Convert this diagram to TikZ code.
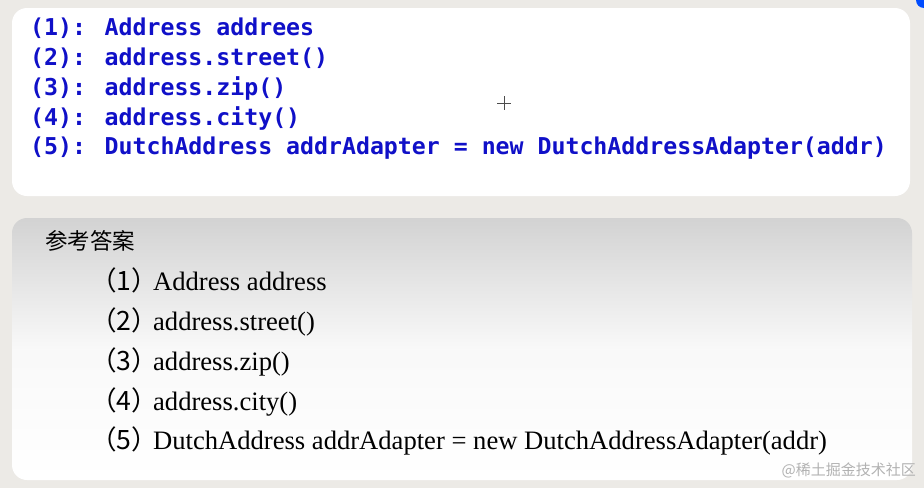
\documentclass[tikz,border=0pt]{standalone}
\usepackage{fontspec}
\setmainfont{Liberation Serif}
\newfontfamily\cjk{Noto Sans CJK SC}
\newfontfamily\codef{DejaVu Sans Mono}
\begin{document}
\begin{tikzpicture}[x=1pt,y=-1pt,
  code/.style={anchor=west,inner sep=0,text=codeblue,font=\codef\bfseries\fontsize{23.2}{23}\selectfont},
  ans/.style={anchor=west,inner sep=0,font=\fontsize{26.6}{26}\selectfont}]
\definecolor{codeblue}{RGB}{16,16,200}
\definecolor{bg}{RGB}{236,234,230}
\useasboundingbox (0,0) rectangle (924,488);
\fill[bg] (0,0) rectangle (924,488);
\fill[blue!70!cyan] (924,0) circle (8);
\fill[white,rounded corners=15] (12,8) rectangle (910,196);
\shade[rounded corners=15,top color=gray!35,bottom color=white,middle color=white!95!gray] (12,218) rectangle (912,480);
\node[code] (c1) at (30,28) {(1): Address addrees};
\node[code] (c2) at (30,58) {(2): address.street()};
\node[code] (c3) at (30,88) {(3): address.zip()};
\node[code] (c4) at (30,118) {(4): address.city()};
\node[code] (c5) at (30,148) {(5): DutchAddress addrAdapter = new DutchAddressAdapter(addr)};
\draw[black!70,line width=0.6] (497,103) -- (511,103) (504,96) -- (504,110);
\node[anchor=west,inner sep=0,font=\cjk\fontsize{22.5}{22}\selectfont] (h) at (45,241) {参考答案};
\node[ans] (a1) at (90,280) {{\cjk （1）}\hspace{-5pt}Address address};
\node[ans] (a2) at (90,322) {{\cjk （2）}\hspace{-5pt}address.street()};
\node[ans] (a3) at (90,362) {{\cjk （3）}\hspace{-5pt}address.zip()};
\node[ans] (a4) at (90,402) {{\cjk （4）}\hspace{-5pt}address.city()};
\node[ans] (a5) at (90,441) {{\cjk （5）}\hspace{-5pt}DutchAddress addrAdapter = new DutchAddressAdapter(addr)};
\node[anchor=east,inner sep=0,text=gray!60,font=\cjk\fontsize{15}{15}\selectfont] (w) at (916,470) {@稀土掘金技术社区};
\end{tikzpicture}
\end{document}
